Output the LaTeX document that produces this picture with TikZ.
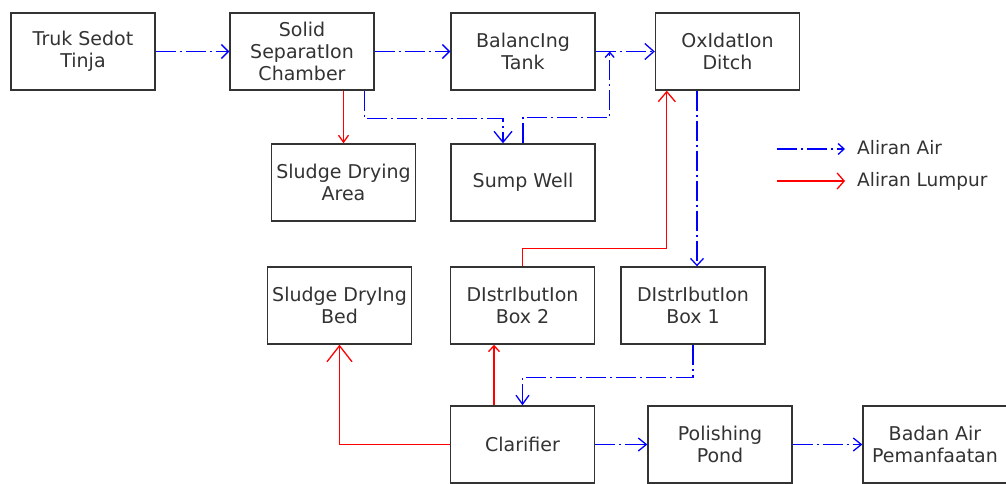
\documentclass[tikz,border=0pt]{standalone}
\usepackage{fontspec}
\setmainfont{DejaVu Sans}
\usetikzlibrary{arrows.meta,calc}
\begin{document}
\begin{tikzpicture}[x=1pt,y=-1pt,
  box/.style={draw=black!80, line width=1.4pt, minimum width=144pt, minimum height=77pt,
    inner sep=0pt, align=center, font=\fontsize{19}{22}\selectfont, text=black!80},
  legtext/.style={font=\fontsize{18.5}{22}\selectfont, text=black!80, inner sep=0pt},
  air/.style={draw=blue, line width=1.3pt, dash pattern=on 20pt off 4pt on 2pt off 4pt},
  lumpur/.style={draw=red, line width=1.3pt},
  ahead/.style 2 args={-{Straight Barb[length=#1pt,width=#2pt]}}
]
\fill[white] (0,0) rectangle (1006,483);
\useasboundingbox (0,0) rectangle (1006,483);

% boxes
\node[box] (truk)  at (83,51.5)    {Truk Sedot\\Tinja};
\node[box] (ssc)   at (302,51.5)   {Solid\\SeparatIon\\Chamber};
\node[box] (bal)   at (523,51.5)   {BalancIng\\Tank};
\node[box] (oxi)   at (727.5,51.5) {OxIdatIon\\Ditch};
\node[box] (sda)   at (343.5,182.5){Sludge Drying\\Area};
\node[box] (sump)  at (523,182.5)  {Sump Well};
\node[box] (sdb)   at (339.5,305.5){Sludge DryIng\\Bed};
\node[box] (db2)   at (522.5,305.5){DIstrIbutIon\\Box 2};
\node[box] (db1)   at (693,305.5)  {DIstrIbutIon\\Box 1};
\node[box] (clar)  at (522.5,444.5){Clarifier};
\node[box] (pol)   at (720,444.5)  {Polishing\\Pond};
\node[box] (badan) at (935,444.5)  {Badan Air\\Pemanfaatan};

% water flow (top row)
\draw[air, ahead={7}{14}] (truk.east) -- (ssc.west);
\draw[air, ahead={7}{14}] (ssc.east) -- (bal.west);
\draw[air, ahead={9}{16}] (bal.east) -- (oxi.west);

% sludge to drying area
\draw[lumpur, ahead={7}{10}] (sda.north |- ssc.south) -- (sda.north);

% ssc -> sump well
\draw[air, ahead={11}{18}] ($(ssc.south east)+(-10,0)$) |- ($(sump.north)+(-20,-25)$) -- ($(sump.north)+(-20,0)$);

% sump well -> junction
\coordinate (j1) at ($(bal.east)+(14,0)$);
\draw[air, ahead={5}{9}] (sump.north) -- ++(0,-26) -| (j1);

% distribution box 2 -> oxidation ditch (sludge return)
\draw[lumpur, ahead={10}{17}] (db2.north) -- ++(0,-18) -| ($(oxi.south west)+(12,0)$);

% oxidation ditch -> distribution box 1
\coordinate (o1) at ($(oxi.south)+(-30.5,0)$);
\draw[air, ahead={7}{13}] (o1) -- (o1 |- db1.north);

% distribution box 1 -> clarifier
\draw[air, ahead={9}{13}] (db1.south) -- ++(0,33) -| (clar.north);

% clarifier -> distribution box 2 (sludge)
\draw[lumpur, ahead={6}{11}] ($(clar.north)+(-28.5,0)$) -- ($(db2.south)+(-28.5,0)$);

% clarifier -> sludge drying bed
\draw[lumpur, ahead={16}{25}] (clar.west) -| (sdb.south);

% clarifier -> polishing pond -> badan air
\draw[air, ahead={8}{13}] (clar.east) -- (pol.west);
\draw[air, ahead={8}{13}] (pol.east) -- (badan.west);

% legend
\coordinate (la1) at (777,149);
\coordinate (la2) at (845,149);
\coordinate (lb1) at (777,181);
\coordinate (lb2) at (845,181);
\draw[air, ahead={6}{11}] (la1) -- (la2);
\draw[lumpur, ahead={7}{16}] (lb1) -- (lb2);
\node[legtext, anchor=base west] (lat) at (857,154) {Aliran Air};
\node[legtext, anchor=base west] (lbt) at (857,186) {Aliran Lumpur};
\end{tikzpicture}
\end{document}
